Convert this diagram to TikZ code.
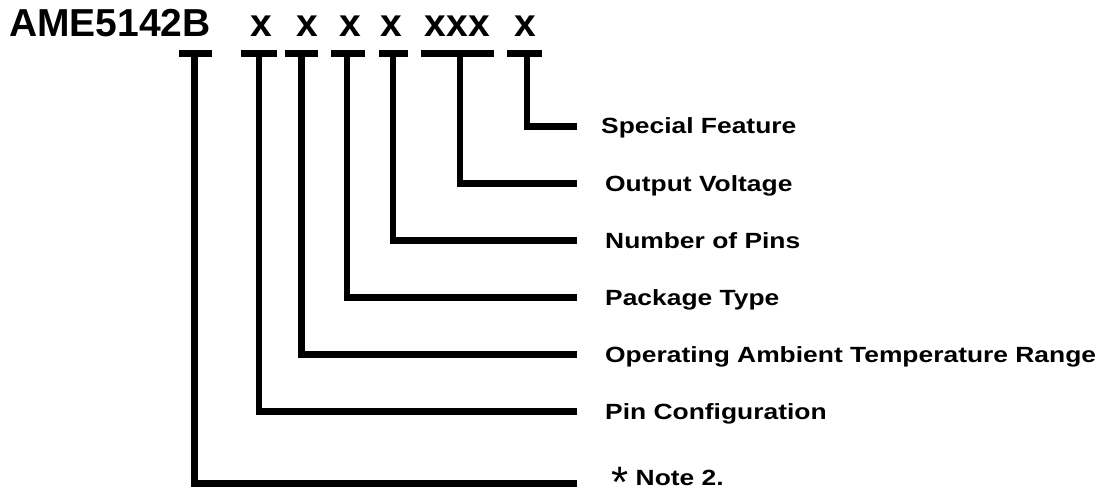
\documentclass[tikz,border=0pt]{standalone}
\usepackage{fontspec}
\setmainfont{Liberation Sans}
\newfontfamily\labfont{Liberation Sans}[FakeStretch=1.2]
\begin{document}
\begin{tikzpicture}[x=1pt,y=-1pt,
  barn/.style={fill=black,draw=none,inner sep=0pt,minimum height=6.7pt},
  lead/.style={line width=6.7pt,line join=miter},
  code/.style={anchor=base,inner sep=0pt,font=\fontsize{39}{39}\selectfont\bfseries},
  lab/.style={anchor=base west,inner sep=0pt,font=\labfont\fontsize{22}{22}\selectfont\bfseries}]
\useasboundingbox (0,0) rectangle (1116,490);
% part number
\node[code,anchor=base west] (pn) at (9,36.7) {AME5142B};
\node[code] (c1) at (261.5,36.7) {x};
\node[code] (c2) at (307,36.7) {x};
\node[code] (c3) at (350,36.7) {x};
\node[code] (c4) at (391.7,36.7) {x};
\node[code] (c5) at (457.3,36.7) {xxx};
\node[code] (c6) at (525,36.7) {x};
% bars
\node[barn,minimum width=33pt] (b1) at (195.5,53.3) {};
\node[barn,minimum width=36pt] (b2) at (259,53.3) {};
\node[barn,minimum width=33pt] (b3) at (301.5,53.3) {};
\node[barn,minimum width=34pt] (b4) at (348,53.3) {};
\node[barn,minimum width=29pt] (b5) at (393.5,53.3) {};
\node[barn,minimum width=73pt] (b6) at (457.5,53.3) {};
\node[barn,minimum width=35pt] (b7) at (524.5,53.3) {};
% lead starts
\coordinate (v1) at (194.5,53.3);
\coordinate (v2) at (259,53.3);
\coordinate (v3) at (301.5,53.3);
\coordinate (v4) at (347,53.3);
\coordinate (v5) at (393,53.3);
\coordinate (v6) at (460,53.3);
\coordinate (v7) at (527,53.3);
% lead ends
\coordinate (e1) at (577,126.3);
\coordinate (e2) at (577,183.4);
\coordinate (e3) at (577,240.5);
\coordinate (e4) at (577,297.6);
\coordinate (e5) at (577,354.7);
\coordinate (e6) at (577,411.7);
\coordinate (e7) at (577,483.3);
% labels
\node[lab] (n1) at ([xshift=24pt,yshift=-7.5pt]e1) {Special Feature};
\node[lab] (n2) at ([xshift=28pt,yshift=-8pt]e2) {Output Voltage};
\node[lab] (n3) at ([xshift=28pt,yshift=-8pt]e3) {Number of Pins};
\node[lab] (n4) at ([xshift=28pt,yshift=-8pt]e4) {Package Type};
\node[lab] (n5) at ([xshift=28pt,yshift=-8pt]e5) {Operating Ambient Temperature Range};
\node[lab] (n6) at ([xshift=28pt,yshift=-8pt]e6) {Pin Configuration};
\node[anchor=north,inner sep=0pt,font=\fontsize{44}{44}\selectfont] (ast) at (620.5,466.7) {*};
\node[lab] (n7) at ([xshift=58.5pt,yshift=-2.4pt]e7) {Note 2.};
% leads
\draw[lead] (v7) |- (e1);
\draw[lead] (v6) |- (e2);
\draw[lead] (v5) |- (e3);
\draw[lead] (v4) |- (e4);
\draw[lead] (v3) |- (e5);
\draw[lead] (v2) |- (e6);
\draw[lead] (v1) |- (e7);
\end{tikzpicture}
\end{document}
